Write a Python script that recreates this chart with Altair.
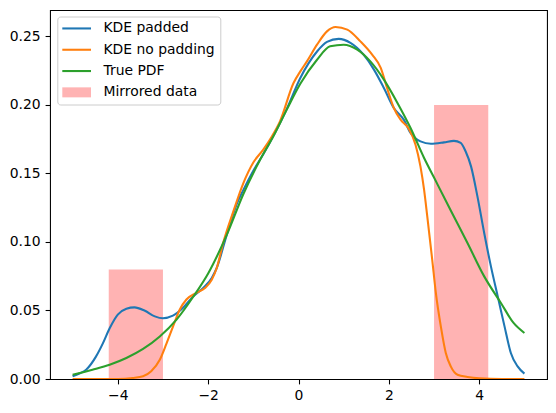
import altair as alt
import pandas as pd

# ---- data ----
padded_x = [-5.0, -4.85, -4.70, -4.48, -4.33, -4.18, -4.0, -3.81, -3.63, -3.41, -3.18, -3.0,
            -2.78, -2.56, -2.33, -2.11, -1.92, -1.81, -1.59, -1.37, -1.22, -1.0, -0.78, -0.5,
            -0.26, 0.04, 0.41, 0.63, 0.89, 1.15, 1.44, 1.67, 1.89, 2.11, 2.33, 2.48, 2.70,
            2.93, 3.22, 3.44, 3.59, 3.70, 3.82, 3.96, 4.11, 4.26, 4.41, 4.56, 4.70, 4.85, 5.0]
padded_y = [0.002, 0.004, 0.0068, 0.0165, 0.026, 0.037, 0.047, 0.0513, 0.0523, 0.050, 0.0457, 0.0443,
            0.0462, 0.0518, 0.0603, 0.0664, 0.0737, 0.081, 0.105, 0.1275, 0.138, 0.152, 0.164, 0.181,
            0.197, 0.2197, 0.239, 0.246, 0.2482, 0.2453, 0.2367, 0.2258, 0.2124, 0.1978, 0.1893, 0.1796, 0.1734,
            0.1717, 0.1727, 0.1738, 0.1723, 0.166, 0.155, 0.1333, 0.1066, 0.082, 0.0603, 0.0384, 0.019, 0.0092, 0.0039]

nopad_x = [-5.0, -4.5, -4.0, -3.67, -3.44, -3.26, -3.07, -2.92, -2.78, -2.63, -2.48, -2.26,
           -2.07, -1.92, -1.81, -1.67, -1.44, -1.22, -1.0, -0.78, -0.59, -0.41, -0.11, 0.04,
           0.19, 0.41, 0.63, 0.82, 1.08, 1.37, 1.63, 1.82, 1.96, 2.11, 2.26, 2.44, 2.59,
           2.70, 2.78, 2.85, 2.96, 3.04, 3.15, 3.26, 3.37, 3.52, 3.74, 4.0, 4.5, 5.0]
nopad_y = [0.0, 0.0, 0.0, 0.0007, 0.002, 0.0056, 0.014, 0.026, 0.038, 0.0506, 0.058, 0.0628,
           0.0664, 0.0725, 0.081, 0.099, 0.1225, 0.143, 0.158, 0.1674, 0.177, 0.188, 0.216, 0.2245,
           0.232, 0.244, 0.2537, 0.2569, 0.255, 0.2464, 0.2367, 0.227, 0.2124, 0.1978, 0.1893, 0.1826, 0.171,
           0.155, 0.138, 0.1187, 0.087, 0.0628, 0.0384, 0.019, 0.0092, 0.0031, 0.0015, 0.0005, 0.0, 0.0]

true_x = [-5.0, -4.56, -4.18, -3.81, -3.44, -3.07, -2.70, -2.33, -2.0, -1.59, -1.22, -0.85,
          -0.56, -0.26, 0.04, 0.41, 0.70, 1.0, 1.30, 1.59, 1.89, 2.19, 2.48, 2.78,
          3.0, 3.37, 3.74, 4.11, 4.48, 4.76, 5.0]
true_y = [0.0031, 0.0068, 0.0104, 0.0153, 0.0219, 0.031, 0.0433, 0.060, 0.077, 0.105, 0.135, 0.160,
          0.177, 0.1966, 0.2155, 0.2330, 0.2428, 0.244, 0.2404, 0.2318, 0.2185, 0.2015, 0.1832, 0.1613,
          0.147, 0.123, 0.0993, 0.0749, 0.0555, 0.0409, 0.0336]

bar_x0 = [-4.2, 3.0]
bar_x1 = [-3.0, 4.2]
bar_h = [0.08, 0.2]

series_names = ["KDE padded", "KDE no padding", "True PDF", "Mirrored data"]
series_colors = ["#1f77b4", "#ff7f0e", "#2ca02c", "#ffb3b3"]
# legend handles: thin bar for lines, patch for the mirrored data
line_handle = "M-2.87,-0.208H2.87V0.208H-2.87Z"
patch_handle = "M-2.87,-1H2.87V1H-2.87Z"
series_handles = [line_handle, line_handle, line_handle, patch_handle]

x_domain = [-5.5, 5.5]
y_domain = [0, 0.2693]
x_ticks = [-4, -2, 0, 2, 4]
y_ticks = [0.0, 0.05, 0.10, 0.15, 0.20, 0.25]

# ---- tables ----
frames = []
for name, xs, ys in [(series_names[0], padded_x, padded_y),
                     (series_names[1], nopad_x, nopad_y),
                     (series_names[2], true_x, true_y)]:
    frames.append(pd.DataFrame({"series": name, "x": xs, "y": ys}))
lines_df = pd.concat(frames, ignore_index=True)
lines_df["ord"] = range(len(lines_df))

bars_df = pd.DataFrame({"x0": bar_x0, "x1": bar_x1, "h": bar_h,
                        "series": series_names[3]})

x_scale = alt.Scale(domain=x_domain, nice=False, zero=False, padding=0)
y_scale = alt.Scale(domain=y_domain, nice=False, zero=False, padding=0)
x_axis = alt.Axis(values=x_ticks, format="d", title=None)
y_axis = alt.Axis(values=y_ticks, format=".2f", title=None)

legend = alt.Legend(
    title=None,
    orient="none",
    legendX=7.3,
    legendY=6.5,
    symbolSize=100,
    symbolStrokeWidth=0,
    symbolOffset=7.4,
    labelOffset=19.9,
    rowPadding=6.3,
    padding=5,
    fillColor="rgba(255,255,255,0.8)",
    strokeColor="#cccccc",
    cornerRadius=3,
    labelFont="DejaVu Sans",
    labelFontSize=13.9,
    labelColor="black",
)

bars = alt.Chart(bars_df).mark_rect(color="#ffb3b3", opacity=1).encode(
    x=alt.X("x0:Q", scale=x_scale, axis=x_axis),
    x2="x1:Q",
    y=alt.Y("h:Q", scale=y_scale, axis=y_axis),
    y2=alt.datum(0),
)

lines = alt.Chart(lines_df).mark_line(strokeWidth=2.08, interpolate="monotone", clip=True).encode(
    x=alt.X("x:Q", scale=x_scale, axis=x_axis),
    y=alt.Y("y:Q", scale=y_scale, axis=y_axis),
    stroke=alt.Stroke("series:N", scale=alt.Scale(domain=series_names[:3], range=series_colors[:3]),
                      legend=None),
    order="ord:Q",
)

# legend-only layer (no marks drawn)
keys = alt.Chart(lines_df).transform_filter("false").mark_point(
    filled=True, opacity=1, strokeWidth=0
).encode(
    x=alt.X("x:Q", scale=x_scale, axis=x_axis),
    y=alt.Y("y:Q", scale=y_scale, axis=y_axis),
    fill=alt.Fill("series:N", scale=alt.Scale(domain=series_names, range=series_colors), legend=legend),
    shape=alt.Shape("series:N", scale=alt.Scale(domain=series_names, range=series_handles), legend=legend),
)

chart = (
    alt.layer(bars, lines, keys)
    .properties(
        width=497,
        height=369,
        autosize=alt.AutoSizeParams(type="none"),
        padding={"left": 42, "top": 2, "right": 1, "bottom": 26},
    )
    .configure_view(stroke="black", strokeWidth=1.07)
    .configure_axis(
        domain=False,
        grid=False,
        ticks=True,
        tickColor="black",
        tickSize=4.9,
        tickWidth=1.07,
        labelFont="DejaVu Sans",
        labelFontSize=13.9,
        labelColor="black",
        labelPadding=4.9,
    )
)

chart.save("out.html", embed_options={"renderer": "svg", "actions": False})
